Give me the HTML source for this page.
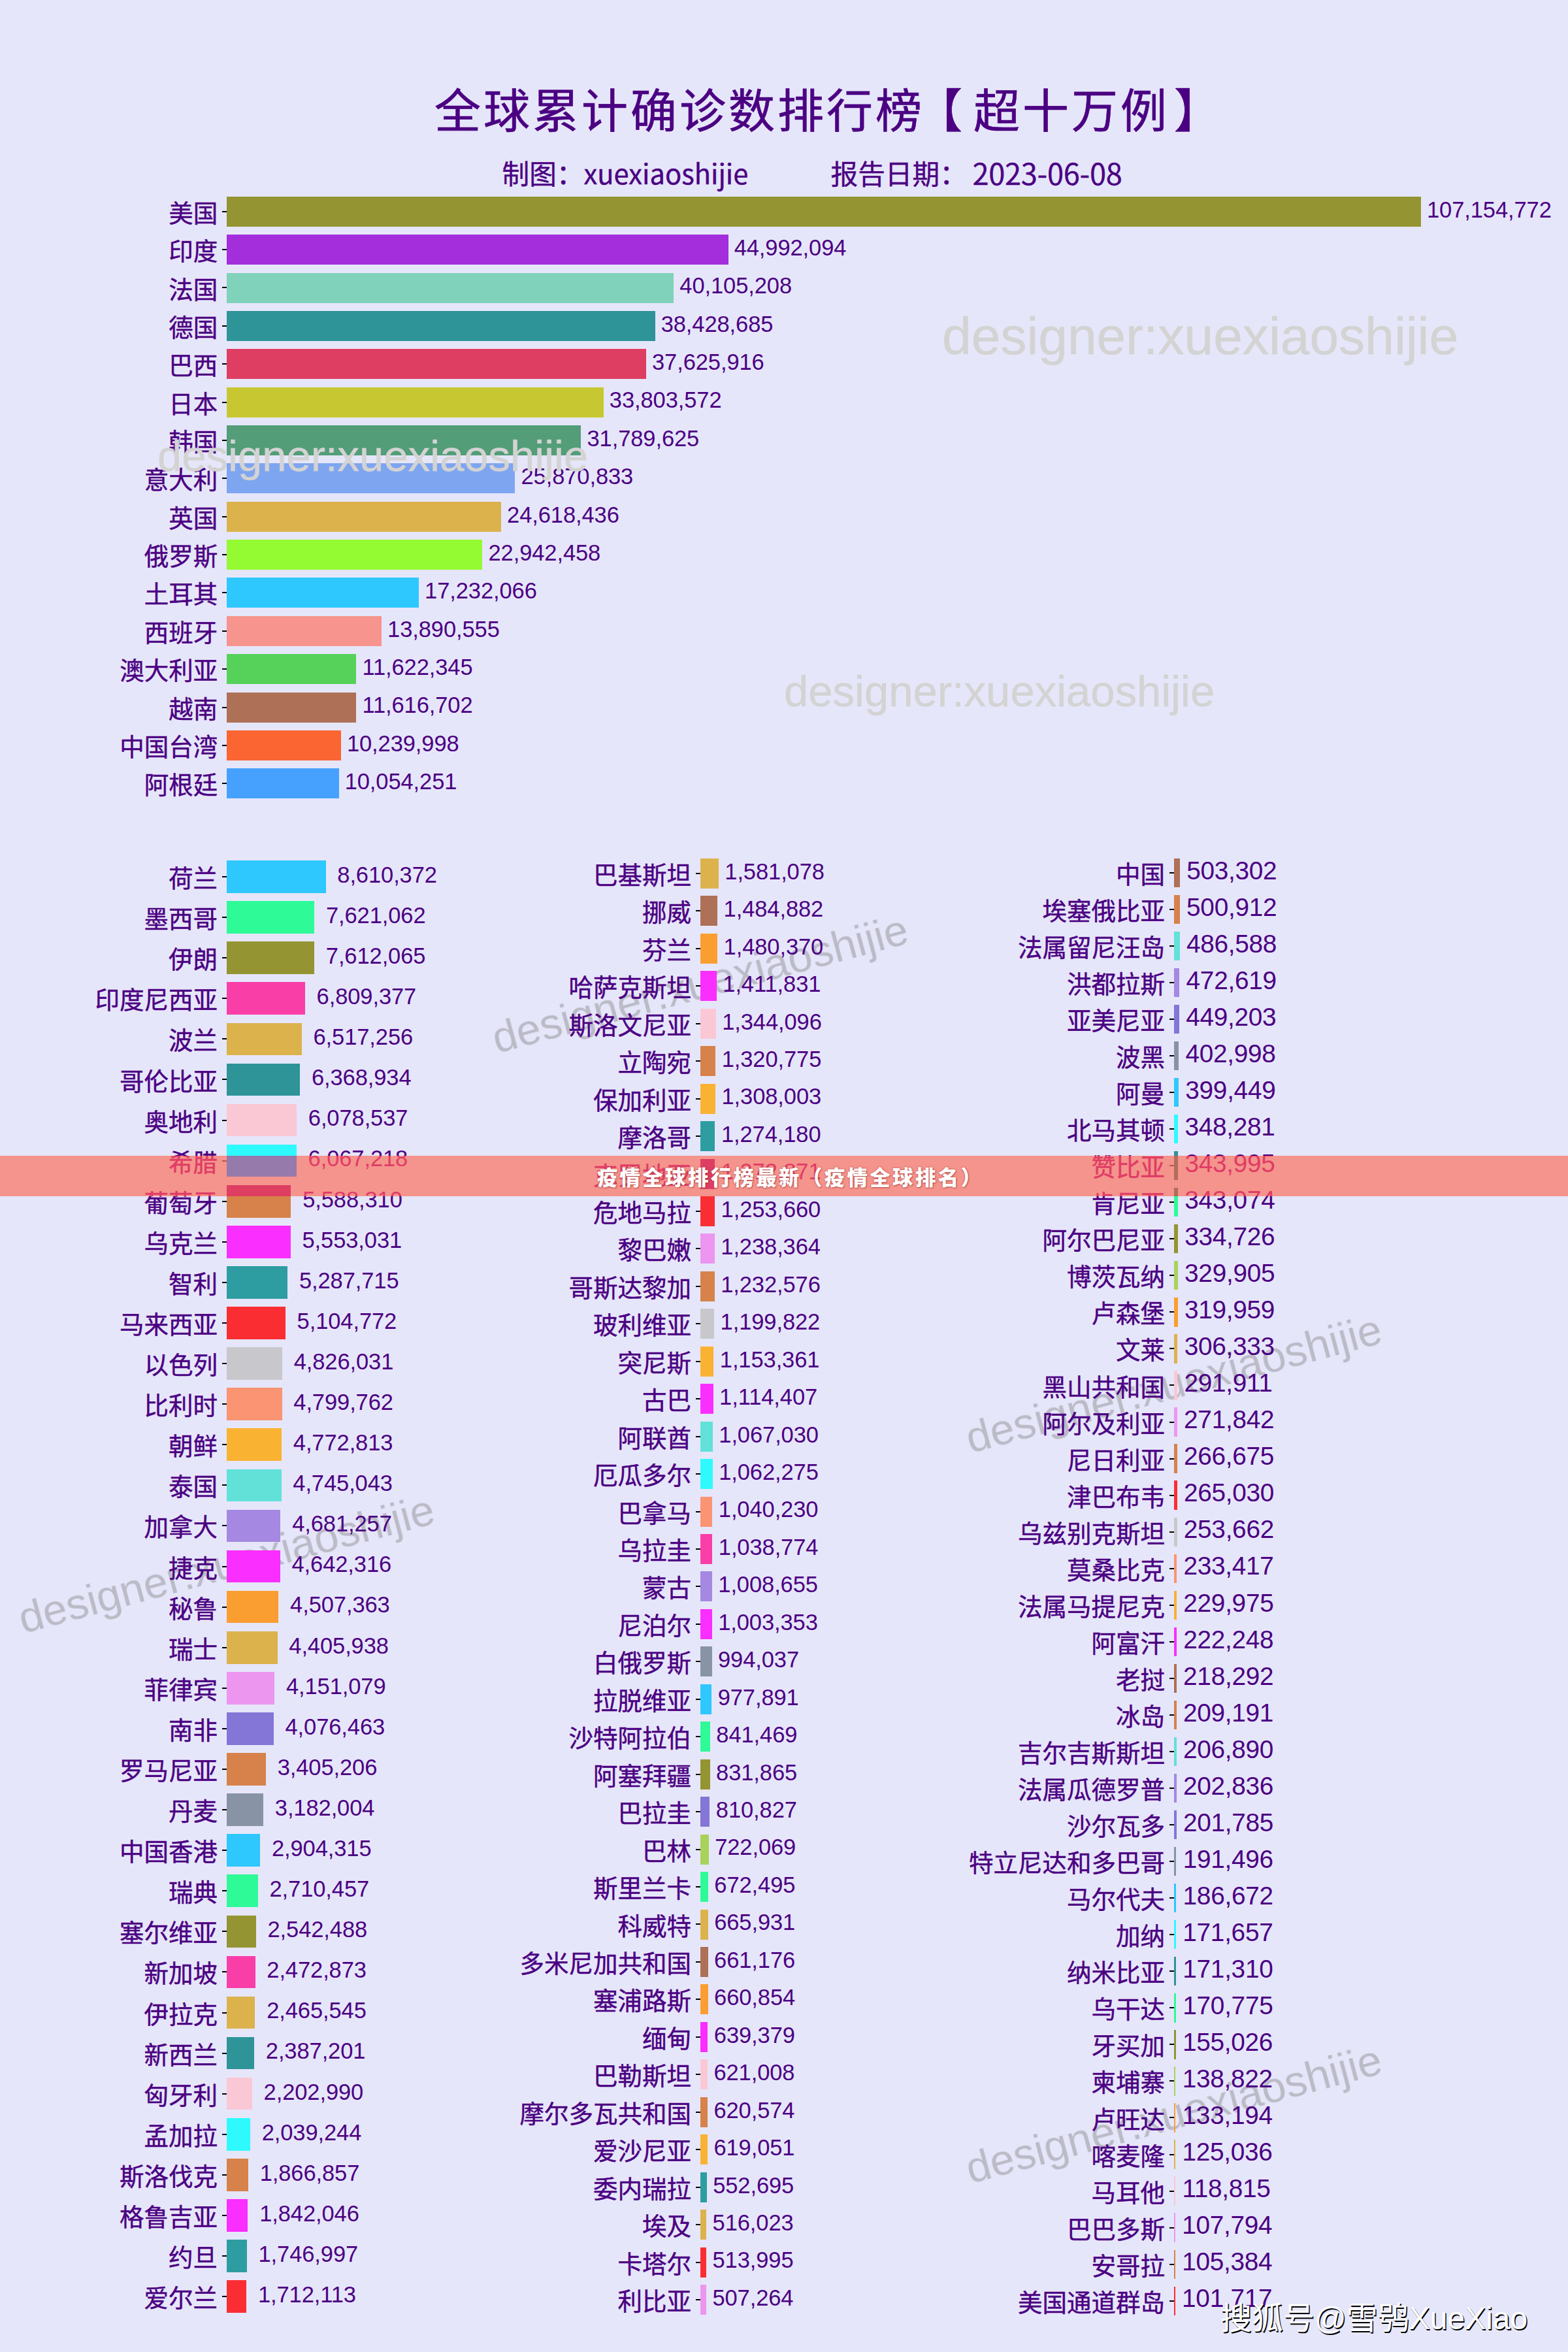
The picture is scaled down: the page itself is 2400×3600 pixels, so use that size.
<!DOCTYPE html>
<html lang="zh"><head><meta charset="utf-8"><title>全球累计确诊数排行榜</title><style>
html,body{margin:0;padding:0}
body{width:2400px;height:3600px;background:#e6e6fa;position:relative;overflow:hidden;font-family:"Noto Sans CJK SC","Liberation Sans",sans-serif;color:#4b0082}
#pg{position:absolute;left:0;top:0;width:2400px;height:3600px;overflow:hidden}
.b{position:absolute}
.t{position:absolute;width:7.0px;height:2.1px}
.l{position:absolute;font-size:37.5px;line-height:60px;height:60px;white-space:nowrap;-webkit-text-stroke:0.45px}
.v{position:absolute;line-height:60px;height:60px;white-space:nowrap;font-family:"Liberation Sans",sans-serif}
.x{position:absolute;white-space:nowrap}
.wr{position:absolute;white-space:nowrap;font-family:"Liberation Sans",sans-serif;font-size:66.67px;line-height:80px;color:rgba(128,128,128,0.42);filter:blur(0.6px);transform-origin:0 100%;transform:rotate(-15deg)}
.wh{position:absolute;white-space:nowrap;line-height:100px;color:#d3d3d3;font-family:"Liberation Sans",sans-serif;-webkit-text-stroke:0.5px}
</style></head><body><div id="pg">
<div class="wr" style="left:765px;top:1548.5px">designer:xuexiaoshijie</div><div class="wr" style="left:40px;top:2436.5px">designer:xuexiaoshijie</div><div class="wr" style="left:1490px;top:2160.5px">designer:xuexiaoshijie</div><div class="wr" style="left:1490px;top:3278.5px">designer:xuexiaoshijie</div><div class="b" style="left:347.2px;top:300.8px;width:1827.8px;height:46.0px;background:#949432"></div>
<div class="t" style="left:340.2px;top:322.7px;background:#000"></div>
<div class="l" style="right:2066.8px;top:293.8px;color:#4b0082">美国</div>
<div class="v" style="left:2184.0px;top:290.6px;font-size:34.5px;letter-spacing:-0.1px;color:#4b0082">107,154,772</div>
<div class="b" style="left:347.2px;top:359.1px;width:767.5px;height:46.0px;background:#a42edb"></div>
<div class="t" style="left:340.2px;top:381.1px;background:#000"></div>
<div class="l" style="right:2066.8px;top:352.1px;color:#4b0082">印度</div>
<div class="v" style="left:1123.7px;top:348.9px;font-size:34.5px;letter-spacing:-0.1px;color:#4b0082">44,992,094</div>
<div class="b" style="left:347.2px;top:417.5px;width:684.1px;height:46.0px;background:#80d2ba"></div>
<div class="t" style="left:340.2px;top:439.4px;background:#000"></div>
<div class="l" style="right:2066.8px;top:410.5px;color:#4b0082">法国</div>
<div class="v" style="left:1040.3px;top:407.3px;font-size:34.5px;letter-spacing:-0.1px;color:#4b0082">40,105,208</div>
<div class="b" style="left:347.2px;top:475.9px;width:655.5px;height:46.0px;background:#2e9498"></div>
<div class="t" style="left:340.2px;top:497.8px;background:#000"></div>
<div class="l" style="right:2066.8px;top:468.9px;color:#4b0082">德国</div>
<div class="v" style="left:1011.7px;top:465.7px;font-size:34.5px;letter-spacing:-0.1px;color:#4b0082">38,428,685</div>
<div class="b" style="left:347.2px;top:534.2px;width:641.8px;height:46.0px;background:#de3e62"></div>
<div class="t" style="left:340.2px;top:556.2px;background:#000"></div>
<div class="l" style="right:2066.8px;top:527.2px;color:#4b0082">巴西</div>
<div class="v" style="left:998.0px;top:524.0px;font-size:34.5px;letter-spacing:-0.1px;color:#4b0082">37,625,916</div>
<div class="b" style="left:347.2px;top:592.6px;width:576.6px;height:46.0px;background:#c7c732"></div>
<div class="t" style="left:340.2px;top:614.5px;background:#000"></div>
<div class="l" style="right:2066.8px;top:585.6px;color:#4b0082">日本</div>
<div class="v" style="left:932.8px;top:582.4px;font-size:34.5px;letter-spacing:-0.1px;color:#4b0082">33,803,572</div>
<div class="b" style="left:347.2px;top:651.0px;width:542.3px;height:46.0px;background:#539d78"></div>
<div class="t" style="left:340.2px;top:672.9px;background:#000"></div>
<div class="l" style="right:2066.8px;top:644.0px;color:#4b0082">韩国</div>
<div class="v" style="left:898.5px;top:640.8px;font-size:34.5px;letter-spacing:-0.1px;color:#4b0082">31,789,625</div>
<div class="b" style="left:347.2px;top:709.3px;width:441.3px;height:46.0px;background:#7ea5f0"></div>
<div class="t" style="left:340.2px;top:731.3px;background:#000"></div>
<div class="l" style="right:2066.8px;top:702.3px;color:#4b0082">意大利</div>
<div class="v" style="left:797.5px;top:699.1px;font-size:34.5px;letter-spacing:-0.1px;color:#4b0082">25,870,833</div>
<div class="b" style="left:347.2px;top:767.7px;width:419.9px;height:46.0px;background:#dcb24c"></div>
<div class="t" style="left:340.2px;top:789.7px;background:#000"></div>
<div class="l" style="right:2066.8px;top:760.7px;color:#4b0082">英国</div>
<div class="v" style="left:776.1px;top:757.5px;font-size:34.5px;letter-spacing:-0.1px;color:#4b0082">24,618,436</div>
<div class="b" style="left:347.2px;top:826.1px;width:391.3px;height:46.0px;background:#94fa32"></div>
<div class="t" style="left:340.2px;top:848.0px;background:#000"></div>
<div class="l" style="right:2066.8px;top:819.1px;color:#4b0082">俄罗斯</div>
<div class="v" style="left:747.5px;top:815.9px;font-size:34.5px;letter-spacing:-0.1px;color:#4b0082">22,942,458</div>
<div class="b" style="left:347.2px;top:884.4px;width:293.9px;height:46.0px;background:#2ec7fe"></div>
<div class="t" style="left:340.2px;top:906.4px;background:#000"></div>
<div class="l" style="right:2066.8px;top:877.4px;color:#4b0082">土耳其</div>
<div class="v" style="left:650.1px;top:874.2px;font-size:34.5px;letter-spacing:-0.1px;color:#4b0082">17,232,066</div>
<div class="b" style="left:347.2px;top:942.8px;width:236.9px;height:46.0px;background:#f6948d"></div>
<div class="t" style="left:340.2px;top:964.8px;background:#000"></div>
<div class="l" style="right:2066.8px;top:935.8px;color:#4b0082">西班牙</div>
<div class="v" style="left:593.1px;top:932.6px;font-size:34.5px;letter-spacing:-0.1px;color:#4b0082">13,890,555</div>
<div class="b" style="left:347.2px;top:1001.2px;width:198.2px;height:46.0px;background:#56d25a"></div>
<div class="t" style="left:340.2px;top:1023.1px;background:#000"></div>
<div class="l" style="right:2066.8px;top:994.2px;color:#4b0082">澳大利亚</div>
<div class="v" style="left:554.4px;top:991.0px;font-size:34.5px;letter-spacing:-0.1px;color:#4b0082">11,622,345</div>
<div class="b" style="left:347.2px;top:1059.6px;width:198.2px;height:46.0px;background:#ae7056"></div>
<div class="t" style="left:340.2px;top:1081.5px;background:#000"></div>
<div class="l" style="right:2066.8px;top:1052.6px;color:#4b0082">越南</div>
<div class="v" style="left:554.4px;top:1049.4px;font-size:34.5px;letter-spacing:-0.1px;color:#4b0082">11,616,702</div>
<div class="b" style="left:347.2px;top:1117.9px;width:174.7px;height:46.0px;background:#fa6532"></div>
<div class="t" style="left:340.2px;top:1139.9px;background:#000"></div>
<div class="l" style="right:2066.8px;top:1110.9px;color:#4b0082">中国台湾</div>
<div class="v" style="left:530.9px;top:1107.7px;font-size:34.5px;letter-spacing:-0.1px;color:#4b0082">10,239,998</div>
<div class="b" style="left:347.2px;top:1176.3px;width:171.5px;height:46.0px;background:#46a1fe"></div>
<div class="t" style="left:340.2px;top:1198.2px;background:#000"></div>
<div class="l" style="right:2066.8px;top:1169.3px;color:#4b0082">阿根廷</div>
<div class="v" style="left:527.7px;top:1166.1px;font-size:34.5px;letter-spacing:-0.1px;color:#4b0082">10,054,251</div><div class="b" style="left:347.1px;top:1317.2px;width:151.5px;height:49.7px;background:#2ec7fe"></div>
<div class="t" style="left:340.1px;top:1341.0px;background:#000"></div>
<div class="l" style="right:2066.9px;top:1312.0px;color:#4b0082">荷兰</div>
<div class="v" style="left:516.3px;top:1308.8px;font-size:34.5px;letter-spacing:-0.1px;color:#4b0082">8,610,372</div>
<div class="b" style="left:347.1px;top:1379.2px;width:134.1px;height:49.7px;background:#2efa98"></div>
<div class="t" style="left:340.1px;top:1403.0px;background:#000"></div>
<div class="l" style="right:2066.9px;top:1374.1px;color:#4b0082">墨西哥</div>
<div class="v" style="left:498.9px;top:1370.9px;font-size:34.5px;letter-spacing:-0.1px;color:#4b0082">7,621,062</div>
<div class="b" style="left:347.1px;top:1441.3px;width:134.0px;height:49.7px;background:#949432"></div>
<div class="t" style="left:340.1px;top:1465.1px;background:#000"></div>
<div class="l" style="right:2066.9px;top:1436.2px;color:#4b0082">伊朗</div>
<div class="v" style="left:498.8px;top:1433.0px;font-size:34.5px;letter-spacing:-0.1px;color:#4b0082">7,612,065</div>
<div class="b" style="left:347.1px;top:1503.4px;width:119.8px;height:49.7px;background:#fa3ea8"></div>
<div class="t" style="left:340.1px;top:1527.2px;background:#000"></div>
<div class="l" style="right:2066.9px;top:1498.3px;color:#4b0082">印度尼西亚</div>
<div class="v" style="left:484.6px;top:1495.1px;font-size:34.5px;letter-spacing:-0.1px;color:#4b0082">6,809,377</div>
<div class="b" style="left:347.1px;top:1565.5px;width:114.7px;height:49.7px;background:#dcb24c"></div>
<div class="t" style="left:340.1px;top:1589.3px;background:#000"></div>
<div class="l" style="right:2066.9px;top:1560.4px;color:#4b0082">波兰</div>
<div class="v" style="left:479.5px;top:1557.2px;font-size:34.5px;letter-spacing:-0.1px;color:#4b0082">6,517,256</div>
<div class="b" style="left:347.1px;top:1627.6px;width:112.1px;height:49.7px;background:#2e9498"></div>
<div class="t" style="left:340.1px;top:1651.4px;background:#000"></div>
<div class="l" style="right:2066.9px;top:1622.5px;color:#4b0082">哥伦比亚</div>
<div class="v" style="left:476.9px;top:1619.2px;font-size:34.5px;letter-spacing:-0.1px;color:#4b0082">6,368,934</div>
<div class="b" style="left:347.1px;top:1689.7px;width:107.0px;height:49.7px;background:#fac8d4"></div>
<div class="t" style="left:340.1px;top:1713.5px;background:#000"></div>
<div class="l" style="right:2066.9px;top:1684.5px;color:#4b0082">奥地利</div>
<div class="v" style="left:471.8px;top:1681.3px;font-size:34.5px;letter-spacing:-0.1px;color:#4b0082">6,078,537</div>
<div class="b" style="left:347.1px;top:1751.8px;width:106.8px;height:49.7px;background:#2efafe"></div>
<div class="t" style="left:340.1px;top:1775.6px;background:#000"></div>
<div class="l" style="right:2066.9px;top:1746.6px;color:#4b0082">希腊</div>
<div class="v" style="left:471.6px;top:1743.4px;font-size:34.5px;letter-spacing:-0.1px;color:#4b0082">6,067,218</div>
<div class="b" style="left:347.1px;top:1813.9px;width:98.4px;height:49.7px;background:#d6824a"></div>
<div class="t" style="left:340.1px;top:1837.7px;background:#000"></div>
<div class="l" style="right:2066.9px;top:1808.7px;color:#4b0082">葡萄牙</div>
<div class="v" style="left:463.2px;top:1805.5px;font-size:34.5px;letter-spacing:-0.1px;color:#4b0082">5,588,310</div>
<div class="b" style="left:347.1px;top:1876.0px;width:97.7px;height:49.7px;background:#fa2efe"></div>
<div class="t" style="left:340.1px;top:1899.8px;background:#000"></div>
<div class="l" style="right:2066.9px;top:1870.8px;color:#4b0082">乌克兰</div>
<div class="v" style="left:462.5px;top:1867.6px;font-size:34.5px;letter-spacing:-0.1px;color:#4b0082">5,553,031</div>
<div class="b" style="left:347.1px;top:1938.1px;width:93.1px;height:49.7px;background:#2e9da1"></div>
<div class="t" style="left:340.1px;top:1961.9px;background:#000"></div>
<div class="l" style="right:2066.9px;top:1932.9px;color:#4b0082">智利</div>
<div class="v" style="left:457.9px;top:1929.7px;font-size:34.5px;letter-spacing:-0.1px;color:#4b0082">5,287,715</div>
<div class="b" style="left:347.1px;top:2000.1px;width:89.8px;height:49.7px;background:#fa2e32"></div>
<div class="t" style="left:340.1px;top:2023.9px;background:#000"></div>
<div class="l" style="right:2066.9px;top:1995.0px;color:#4b0082">马来西亚</div>
<div class="v" style="left:454.6px;top:1991.8px;font-size:34.5px;letter-spacing:-0.1px;color:#4b0082">5,104,772</div>
<div class="b" style="left:347.1px;top:2062.2px;width:84.9px;height:49.7px;background:#c8c8cc"></div>
<div class="t" style="left:340.1px;top:2086.0px;background:#000"></div>
<div class="l" style="right:2066.9px;top:2057.1px;color:#4b0082">以色列</div>
<div class="v" style="left:449.7px;top:2053.9px;font-size:34.5px;letter-spacing:-0.1px;color:#4b0082">4,826,031</div>
<div class="b" style="left:347.1px;top:2124.3px;width:84.5px;height:49.7px;background:#fa9472"></div>
<div class="t" style="left:340.1px;top:2148.1px;background:#000"></div>
<div class="l" style="right:2066.9px;top:2119.2px;color:#4b0082">比利时</div>
<div class="v" style="left:449.3px;top:2116.0px;font-size:34.5px;letter-spacing:-0.1px;color:#4b0082">4,799,762</div>
<div class="b" style="left:347.1px;top:2186.4px;width:84.0px;height:49.7px;background:#fab232"></div>
<div class="t" style="left:340.1px;top:2210.2px;background:#000"></div>
<div class="l" style="right:2066.9px;top:2181.3px;color:#4b0082">朝鲜</div>
<div class="v" style="left:448.8px;top:2178.1px;font-size:34.5px;letter-spacing:-0.1px;color:#4b0082">4,772,813</div>
<div class="b" style="left:347.1px;top:2248.5px;width:83.5px;height:49.7px;background:#61e1d8"></div>
<div class="t" style="left:340.1px;top:2272.3px;background:#000"></div>
<div class="l" style="right:2066.9px;top:2243.3px;color:#4b0082">泰国</div>
<div class="v" style="left:448.3px;top:2240.2px;font-size:34.5px;letter-spacing:-0.1px;color:#4b0082">4,745,043</div>
<div class="b" style="left:347.1px;top:2310.6px;width:82.4px;height:49.7px;background:#a488e1"></div>
<div class="t" style="left:340.1px;top:2334.4px;background:#000"></div>
<div class="l" style="right:2066.9px;top:2305.4px;color:#4b0082">加拿大</div>
<div class="v" style="left:447.2px;top:2302.2px;font-size:34.5px;letter-spacing:-0.1px;color:#4b0082">4,681,257</div>
<div class="b" style="left:347.1px;top:2372.7px;width:81.7px;height:49.7px;background:#fa2efe"></div>
<div class="t" style="left:340.1px;top:2396.5px;background:#000"></div>
<div class="l" style="right:2066.9px;top:2367.5px;color:#4b0082">捷克</div>
<div class="v" style="left:446.5px;top:2364.3px;font-size:34.5px;letter-spacing:-0.1px;color:#4b0082">4,642,316</div>
<div class="b" style="left:347.1px;top:2434.8px;width:79.3px;height:49.7px;background:#fa9e32"></div>
<div class="t" style="left:340.1px;top:2458.6px;background:#000"></div>
<div class="l" style="right:2066.9px;top:2429.6px;color:#4b0082">秘鲁</div>
<div class="v" style="left:444.1px;top:2426.4px;font-size:34.5px;letter-spacing:-0.1px;color:#4b0082">4,507,363</div>
<div class="b" style="left:347.1px;top:2496.9px;width:77.5px;height:49.7px;background:#dcb24c"></div>
<div class="t" style="left:340.1px;top:2520.7px;background:#000"></div>
<div class="l" style="right:2066.9px;top:2491.7px;color:#4b0082">瑞士</div>
<div class="v" style="left:442.3px;top:2488.5px;font-size:34.5px;letter-spacing:-0.1px;color:#4b0082">4,405,938</div>
<div class="b" style="left:347.1px;top:2559.0px;width:73.1px;height:49.7px;background:#ec96f0"></div>
<div class="t" style="left:340.1px;top:2582.8px;background:#000"></div>
<div class="l" style="right:2066.9px;top:2553.8px;color:#4b0082">菲律宾</div>
<div class="v" style="left:437.9px;top:2550.6px;font-size:34.5px;letter-spacing:-0.1px;color:#4b0082">4,151,079</div>
<div class="b" style="left:347.1px;top:2621.0px;width:71.7px;height:49.7px;background:#8376d6"></div>
<div class="t" style="left:340.1px;top:2644.8px;background:#000"></div>
<div class="l" style="right:2066.9px;top:2615.9px;color:#4b0082">南非</div>
<div class="v" style="left:436.5px;top:2612.7px;font-size:34.5px;letter-spacing:-0.1px;color:#4b0082">4,076,463</div>
<div class="b" style="left:347.1px;top:2683.1px;width:59.9px;height:49.7px;background:#d6824a"></div>
<div class="t" style="left:340.1px;top:2706.9px;background:#000"></div>
<div class="l" style="right:2066.9px;top:2678.0px;color:#4b0082">罗马尼亚</div>
<div class="v" style="left:424.7px;top:2674.8px;font-size:34.5px;letter-spacing:-0.1px;color:#4b0082">3,405,206</div>
<div class="b" style="left:347.1px;top:2745.2px;width:56.0px;height:49.7px;background:#8894a5"></div>
<div class="t" style="left:340.1px;top:2769.0px;background:#000"></div>
<div class="l" style="right:2066.9px;top:2740.1px;color:#4b0082">丹麦</div>
<div class="v" style="left:420.8px;top:2736.9px;font-size:34.5px;letter-spacing:-0.1px;color:#4b0082">3,182,004</div>
<div class="b" style="left:347.1px;top:2807.3px;width:51.1px;height:49.7px;background:#2ec7fe"></div>
<div class="t" style="left:340.1px;top:2831.1px;background:#000"></div>
<div class="l" style="right:2066.9px;top:2802.2px;color:#4b0082">中国香港</div>
<div class="v" style="left:415.9px;top:2799.0px;font-size:34.5px;letter-spacing:-0.1px;color:#4b0082">2,904,315</div>
<div class="b" style="left:347.1px;top:2869.4px;width:47.7px;height:49.7px;background:#2efa98"></div>
<div class="t" style="left:340.1px;top:2893.2px;background:#000"></div>
<div class="l" style="right:2066.9px;top:2864.2px;color:#4b0082">瑞典</div>
<div class="v" style="left:412.5px;top:2861.1px;font-size:34.5px;letter-spacing:-0.1px;color:#4b0082">2,710,457</div>
<div class="b" style="left:347.1px;top:2931.5px;width:44.7px;height:49.7px;background:#949432"></div>
<div class="t" style="left:340.1px;top:2955.3px;background:#000"></div>
<div class="l" style="right:2066.9px;top:2926.3px;color:#4b0082">塞尔维亚</div>
<div class="v" style="left:409.5px;top:2923.1px;font-size:34.5px;letter-spacing:-0.1px;color:#4b0082">2,542,488</div>
<div class="b" style="left:347.1px;top:2993.6px;width:43.5px;height:49.7px;background:#fa3ea8"></div>
<div class="t" style="left:340.1px;top:3017.4px;background:#000"></div>
<div class="l" style="right:2066.9px;top:2988.4px;color:#4b0082">新加坡</div>
<div class="v" style="left:408.3px;top:2985.2px;font-size:34.5px;letter-spacing:-0.1px;color:#4b0082">2,472,873</div>
<div class="b" style="left:347.1px;top:3055.7px;width:43.4px;height:49.7px;background:#dcb24c"></div>
<div class="t" style="left:340.1px;top:3079.5px;background:#000"></div>
<div class="l" style="right:2066.9px;top:3050.5px;color:#4b0082">伊拉克</div>
<div class="v" style="left:408.2px;top:3047.3px;font-size:34.5px;letter-spacing:-0.1px;color:#4b0082">2,465,545</div>
<div class="b" style="left:347.1px;top:3117.8px;width:42.0px;height:49.7px;background:#2e9498"></div>
<div class="t" style="left:340.1px;top:3141.6px;background:#000"></div>
<div class="l" style="right:2066.9px;top:3112.6px;color:#4b0082">新西兰</div>
<div class="v" style="left:406.8px;top:3109.4px;font-size:34.5px;letter-spacing:-0.1px;color:#4b0082">2,387,201</div>
<div class="b" style="left:347.1px;top:3179.8px;width:38.8px;height:49.7px;background:#fac8d4"></div>
<div class="t" style="left:340.1px;top:3203.6px;background:#000"></div>
<div class="l" style="right:2066.9px;top:3174.7px;color:#4b0082">匈牙利</div>
<div class="v" style="left:403.6px;top:3171.5px;font-size:34.5px;letter-spacing:-0.1px;color:#4b0082">2,202,990</div>
<div class="b" style="left:347.1px;top:3241.9px;width:35.9px;height:49.7px;background:#2efafe"></div>
<div class="t" style="left:340.1px;top:3265.7px;background:#000"></div>
<div class="l" style="right:2066.9px;top:3236.8px;color:#4b0082">孟加拉</div>
<div class="v" style="left:400.7px;top:3233.6px;font-size:34.5px;letter-spacing:-0.1px;color:#4b0082">2,039,244</div>
<div class="b" style="left:347.1px;top:3304.0px;width:32.9px;height:49.7px;background:#d6824a"></div>
<div class="t" style="left:340.1px;top:3327.8px;background:#000"></div>
<div class="l" style="right:2066.9px;top:3298.9px;color:#4b0082">斯洛伐克</div>
<div class="v" style="left:397.7px;top:3295.7px;font-size:34.5px;letter-spacing:-0.1px;color:#4b0082">1,866,857</div>
<div class="b" style="left:347.1px;top:3366.1px;width:32.4px;height:49.7px;background:#fa2efe"></div>
<div class="t" style="left:340.1px;top:3389.9px;background:#000"></div>
<div class="l" style="right:2066.9px;top:3361.0px;color:#4b0082">格鲁吉亚</div>
<div class="v" style="left:397.2px;top:3357.8px;font-size:34.5px;letter-spacing:-0.1px;color:#4b0082">1,842,046</div>
<div class="b" style="left:347.1px;top:3428.2px;width:30.7px;height:49.7px;background:#2e9da1"></div>
<div class="t" style="left:340.1px;top:3452.0px;background:#000"></div>
<div class="l" style="right:2066.9px;top:3423.1px;color:#4b0082">约旦</div>
<div class="v" style="left:395.5px;top:3419.9px;font-size:34.5px;letter-spacing:-0.1px;color:#4b0082">1,746,997</div>
<div class="b" style="left:347.1px;top:3490.3px;width:30.1px;height:49.7px;background:#fa2e32"></div>
<div class="t" style="left:340.1px;top:3514.1px;background:#000"></div>
<div class="l" style="right:2066.9px;top:3485.2px;color:#4b0082">爱尔兰</div>
<div class="v" style="left:394.9px;top:3482.0px;font-size:34.5px;letter-spacing:-0.1px;color:#4b0082">1,712,113</div><div class="b" style="left:1072.0px;top:1313.9px;width:27.8px;height:46.0px;background:#dcb24c"></div>
<div class="t" style="left:1065.0px;top:1335.9px;background:#000"></div>
<div class="l" style="right:1342.0px;top:1306.9px;color:#4b0082">巴基斯坦</div>
<div class="v" style="left:1109.3px;top:1303.7px;font-size:34.5px;letter-spacing:-0.1px;color:#4b0082">1,581,078</div>
<div class="b" style="left:1072.0px;top:1371.4px;width:26.1px;height:46.0px;background:#ae7056"></div>
<div class="t" style="left:1065.0px;top:1393.3px;background:#000"></div>
<div class="l" style="right:1342.0px;top:1364.4px;color:#4b0082">挪威</div>
<div class="v" style="left:1107.6px;top:1361.2px;font-size:34.5px;letter-spacing:-0.1px;color:#4b0082">1,484,882</div>
<div class="b" style="left:1072.0px;top:1428.8px;width:26.1px;height:46.0px;background:#fa9e32"></div>
<div class="t" style="left:1065.0px;top:1450.8px;background:#000"></div>
<div class="l" style="right:1342.0px;top:1421.8px;color:#4b0082">芬兰</div>
<div class="v" style="left:1107.6px;top:1418.6px;font-size:34.5px;letter-spacing:-0.1px;color:#4b0082">1,480,370</div>
<div class="b" style="left:1072.0px;top:1486.2px;width:24.8px;height:46.0px;background:#fa2efe"></div>
<div class="t" style="left:1065.0px;top:1508.2px;background:#000"></div>
<div class="l" style="right:1342.0px;top:1479.2px;color:#4b0082">哈萨克斯坦</div>
<div class="v" style="left:1106.3px;top:1476.0px;font-size:34.5px;letter-spacing:-0.1px;color:#4b0082">1,411,831</div>
<div class="b" style="left:1072.0px;top:1543.7px;width:23.7px;height:46.0px;background:#fac8d4"></div>
<div class="t" style="left:1065.0px;top:1565.7px;background:#000"></div>
<div class="l" style="right:1342.0px;top:1536.7px;color:#4b0082">斯洛文尼亚</div>
<div class="v" style="left:1105.2px;top:1533.5px;font-size:34.5px;letter-spacing:-0.1px;color:#4b0082">1,344,096</div>
<div class="b" style="left:1072.0px;top:1601.2px;width:23.2px;height:46.0px;background:#d6824a"></div>
<div class="t" style="left:1065.0px;top:1623.1px;background:#000"></div>
<div class="l" style="right:1342.0px;top:1594.2px;color:#4b0082">立陶宛</div>
<div class="v" style="left:1104.7px;top:1591.0px;font-size:34.5px;letter-spacing:-0.1px;color:#4b0082">1,320,775</div>
<div class="b" style="left:1072.0px;top:1658.6px;width:23.0px;height:46.0px;background:#fab232"></div>
<div class="t" style="left:1065.0px;top:1680.6px;background:#000"></div>
<div class="l" style="right:1342.0px;top:1651.6px;color:#4b0082">保加利亚</div>
<div class="v" style="left:1104.5px;top:1648.4px;font-size:34.5px;letter-spacing:-0.1px;color:#4b0082">1,308,003</div>
<div class="b" style="left:1072.0px;top:1716.1px;width:22.4px;height:46.0px;background:#2e9da1"></div>
<div class="t" style="left:1065.0px;top:1738.0px;background:#000"></div>
<div class="l" style="right:1342.0px;top:1709.1px;color:#4b0082">摩洛哥</div>
<div class="v" style="left:1103.9px;top:1705.9px;font-size:34.5px;letter-spacing:-0.1px;color:#4b0082">1,274,180</div>
<div class="b" style="left:1072.0px;top:1773.5px;width:22.4px;height:46.0px;background:#de3e62"></div>
<div class="t" style="left:1065.0px;top:1795.5px;background:#000"></div>
<div class="l" style="right:1342.0px;top:1766.5px;color:#4b0082">克罗地亚</div>
<div class="v" style="left:1103.9px;top:1763.3px;font-size:34.5px;letter-spacing:-0.1px;color:#4b0082">1,272,871</div>
<div class="b" style="left:1072.0px;top:1831.0px;width:22.1px;height:46.0px;background:#fa2e32"></div>
<div class="t" style="left:1065.0px;top:1852.9px;background:#000"></div>
<div class="l" style="right:1342.0px;top:1824.0px;color:#4b0082">危地马拉</div>
<div class="v" style="left:1103.6px;top:1820.8px;font-size:34.5px;letter-spacing:-0.1px;color:#4b0082">1,253,660</div>
<div class="b" style="left:1072.0px;top:1888.4px;width:21.8px;height:46.0px;background:#ec96f0"></div>
<div class="t" style="left:1065.0px;top:1910.4px;background:#000"></div>
<div class="l" style="right:1342.0px;top:1881.4px;color:#4b0082">黎巴嫩</div>
<div class="v" style="left:1103.3px;top:1878.2px;font-size:34.5px;letter-spacing:-0.1px;color:#4b0082">1,238,364</div>
<div class="b" style="left:1072.0px;top:1945.9px;width:21.7px;height:46.0px;background:#d6824a"></div>
<div class="t" style="left:1065.0px;top:1967.8px;background:#000"></div>
<div class="l" style="right:1342.0px;top:1938.9px;color:#4b0082">哥斯达黎加</div>
<div class="v" style="left:1103.2px;top:1935.7px;font-size:34.5px;letter-spacing:-0.1px;color:#4b0082">1,232,576</div>
<div class="b" style="left:1072.0px;top:2003.3px;width:21.1px;height:46.0px;background:#c8c8cc"></div>
<div class="t" style="left:1065.0px;top:2025.3px;background:#000"></div>
<div class="l" style="right:1342.0px;top:1996.3px;color:#4b0082">玻利维亚</div>
<div class="v" style="left:1102.6px;top:1993.1px;font-size:34.5px;letter-spacing:-0.1px;color:#4b0082">1,199,822</div>
<div class="b" style="left:1072.0px;top:2060.8px;width:20.3px;height:46.0px;background:#fab232"></div>
<div class="t" style="left:1065.0px;top:2082.7px;background:#000"></div>
<div class="l" style="right:1342.0px;top:2053.8px;color:#4b0082">突尼斯</div>
<div class="v" style="left:1101.8px;top:2050.6px;font-size:34.5px;letter-spacing:-0.1px;color:#4b0082">1,153,361</div>
<div class="b" style="left:1072.0px;top:2118.2px;width:19.6px;height:46.0px;background:#fa2efe"></div>
<div class="t" style="left:1065.0px;top:2140.2px;background:#000"></div>
<div class="l" style="right:1342.0px;top:2111.2px;color:#4b0082">古巴</div>
<div class="v" style="left:1101.1px;top:2108.0px;font-size:34.5px;letter-spacing:-0.1px;color:#4b0082">1,114,407</div>
<div class="b" style="left:1072.0px;top:2175.7px;width:18.8px;height:46.0px;background:#61e1d8"></div>
<div class="t" style="left:1065.0px;top:2197.6px;background:#000"></div>
<div class="l" style="right:1342.0px;top:2168.7px;color:#4b0082">阿联酋</div>
<div class="v" style="left:1100.3px;top:2165.5px;font-size:34.5px;letter-spacing:-0.1px;color:#4b0082">1,067,030</div>
<div class="b" style="left:1072.0px;top:2233.1px;width:18.7px;height:46.0px;background:#2efafe"></div>
<div class="t" style="left:1065.0px;top:2255.1px;background:#000"></div>
<div class="l" style="right:1342.0px;top:2226.1px;color:#4b0082">厄瓜多尔</div>
<div class="v" style="left:1100.2px;top:2222.9px;font-size:34.5px;letter-spacing:-0.1px;color:#4b0082">1,062,275</div>
<div class="b" style="left:1072.0px;top:2290.6px;width:18.3px;height:46.0px;background:#fa9472"></div>
<div class="t" style="left:1065.0px;top:2312.5px;background:#000"></div>
<div class="l" style="right:1342.0px;top:2283.6px;color:#4b0082">巴拿马</div>
<div class="v" style="left:1099.8px;top:2280.4px;font-size:34.5px;letter-spacing:-0.1px;color:#4b0082">1,040,230</div>
<div class="b" style="left:1072.0px;top:2348.0px;width:18.3px;height:46.0px;background:#fa3ea8"></div>
<div class="t" style="left:1065.0px;top:2369.9px;background:#000"></div>
<div class="l" style="right:1342.0px;top:2341.0px;color:#4b0082">乌拉圭</div>
<div class="v" style="left:1099.8px;top:2337.8px;font-size:34.5px;letter-spacing:-0.1px;color:#4b0082">1,038,774</div>
<div class="b" style="left:1072.0px;top:2405.4px;width:17.8px;height:46.0px;background:#a488e1"></div>
<div class="t" style="left:1065.0px;top:2427.4px;background:#000"></div>
<div class="l" style="right:1342.0px;top:2398.4px;color:#4b0082">蒙古</div>
<div class="v" style="left:1099.3px;top:2395.2px;font-size:34.5px;letter-spacing:-0.1px;color:#4b0082">1,008,655</div>
<div class="b" style="left:1072.0px;top:2462.9px;width:17.7px;height:46.0px;background:#fa2efe"></div>
<div class="t" style="left:1065.0px;top:2484.8px;background:#000"></div>
<div class="l" style="right:1342.0px;top:2455.9px;color:#4b0082">尼泊尔</div>
<div class="v" style="left:1099.2px;top:2452.7px;font-size:34.5px;letter-spacing:-0.1px;color:#4b0082">1,003,353</div>
<div class="b" style="left:1072.0px;top:2520.4px;width:17.5px;height:46.0px;background:#8894a5"></div>
<div class="t" style="left:1065.0px;top:2542.3px;background:#000"></div>
<div class="l" style="right:1342.0px;top:2513.4px;color:#4b0082">白俄罗斯</div>
<div class="v" style="left:1099.0px;top:2510.2px;font-size:34.5px;letter-spacing:-0.1px;color:#4b0082">994,037</div>
<div class="b" style="left:1072.0px;top:2577.8px;width:17.2px;height:46.0px;background:#2ec7fe"></div>
<div class="t" style="left:1065.0px;top:2599.8px;background:#000"></div>
<div class="l" style="right:1342.0px;top:2570.8px;color:#4b0082">拉脱维亚</div>
<div class="v" style="left:1098.7px;top:2567.6px;font-size:34.5px;letter-spacing:-0.1px;color:#4b0082">977,891</div>
<div class="b" style="left:1072.0px;top:2635.2px;width:14.8px;height:46.0px;background:#2efa98"></div>
<div class="t" style="left:1065.0px;top:2657.2px;background:#000"></div>
<div class="l" style="right:1342.0px;top:2628.2px;color:#4b0082">沙特阿拉伯</div>
<div class="v" style="left:1096.3px;top:2625.1px;font-size:34.5px;letter-spacing:-0.1px;color:#4b0082">841,469</div>
<div class="b" style="left:1072.0px;top:2692.7px;width:14.6px;height:46.0px;background:#949432"></div>
<div class="t" style="left:1065.0px;top:2714.7px;background:#000"></div>
<div class="l" style="right:1342.0px;top:2685.7px;color:#4b0082">阿塞拜疆</div>
<div class="v" style="left:1096.1px;top:2682.5px;font-size:34.5px;letter-spacing:-0.1px;color:#4b0082">831,865</div>
<div class="b" style="left:1072.0px;top:2750.2px;width:14.3px;height:46.0px;background:#8376d6"></div>
<div class="t" style="left:1065.0px;top:2772.1px;background:#000"></div>
<div class="l" style="right:1342.0px;top:2743.2px;color:#4b0082">巴拉圭</div>
<div class="v" style="left:1095.8px;top:2740.0px;font-size:34.5px;letter-spacing:-0.1px;color:#4b0082">810,827</div>
<div class="b" style="left:1072.0px;top:2807.6px;width:12.7px;height:46.0px;background:#a9d25a"></div>
<div class="t" style="left:1065.0px;top:2829.6px;background:#000"></div>
<div class="l" style="right:1342.0px;top:2800.6px;color:#4b0082">巴林</div>
<div class="v" style="left:1094.2px;top:2797.4px;font-size:34.5px;letter-spacing:-0.1px;color:#4b0082">722,069</div>
<div class="b" style="left:1072.0px;top:2865.1px;width:11.8px;height:46.0px;background:#2efa98"></div>
<div class="t" style="left:1065.0px;top:2887.0px;background:#000"></div>
<div class="l" style="right:1342.0px;top:2858.1px;color:#4b0082">斯里兰卡</div>
<div class="v" style="left:1093.3px;top:2854.9px;font-size:34.5px;letter-spacing:-0.1px;color:#4b0082">672,495</div>
<div class="b" style="left:1072.0px;top:2922.5px;width:11.7px;height:46.0px;background:#dcb24c"></div>
<div class="t" style="left:1065.0px;top:2944.4px;background:#000"></div>
<div class="l" style="right:1342.0px;top:2915.5px;color:#4b0082">科威特</div>
<div class="v" style="left:1093.2px;top:2912.3px;font-size:34.5px;letter-spacing:-0.1px;color:#4b0082">665,931</div>
<div class="b" style="left:1072.0px;top:2980.0px;width:11.6px;height:46.0px;background:#ae7056"></div>
<div class="t" style="left:1065.0px;top:3001.9px;background:#000"></div>
<div class="l" style="right:1342.0px;top:2973.0px;color:#4b0082">多米尼加共和国</div>
<div class="v" style="left:1093.1px;top:2969.8px;font-size:34.5px;letter-spacing:-0.1px;color:#4b0082">661,176</div>
<div class="b" style="left:1072.0px;top:3037.4px;width:11.6px;height:46.0px;background:#fa9e32"></div>
<div class="t" style="left:1065.0px;top:3059.3px;background:#000"></div>
<div class="l" style="right:1342.0px;top:3030.4px;color:#4b0082">塞浦路斯</div>
<div class="v" style="left:1093.1px;top:3027.2px;font-size:34.5px;letter-spacing:-0.1px;color:#4b0082">660,854</div>
<div class="b" style="left:1072.0px;top:3094.9px;width:11.3px;height:46.0px;background:#fa2efe"></div>
<div class="t" style="left:1065.0px;top:3116.8px;background:#000"></div>
<div class="l" style="right:1342.0px;top:3087.9px;color:#4b0082">缅甸</div>
<div class="v" style="left:1092.8px;top:3084.7px;font-size:34.5px;letter-spacing:-0.1px;color:#4b0082">639,379</div>
<div class="b" style="left:1072.0px;top:3152.3px;width:10.9px;height:46.0px;background:#fac8d4"></div>
<div class="t" style="left:1065.0px;top:3174.2px;background:#000"></div>
<div class="l" style="right:1342.0px;top:3145.3px;color:#4b0082">巴勒斯坦</div>
<div class="v" style="left:1092.4px;top:3142.1px;font-size:34.5px;letter-spacing:-0.1px;color:#4b0082">621,008</div>
<div class="b" style="left:1072.0px;top:3209.8px;width:10.9px;height:46.0px;background:#d6824a"></div>
<div class="t" style="left:1065.0px;top:3231.7px;background:#000"></div>
<div class="l" style="right:1342.0px;top:3202.8px;color:#4b0082">摩尔多瓦共和国</div>
<div class="v" style="left:1092.4px;top:3199.6px;font-size:34.5px;letter-spacing:-0.1px;color:#4b0082">620,574</div>
<div class="b" style="left:1072.0px;top:3267.2px;width:10.9px;height:46.0px;background:#fab232"></div>
<div class="t" style="left:1065.0px;top:3289.2px;background:#000"></div>
<div class="l" style="right:1342.0px;top:3260.2px;color:#4b0082">爱沙尼亚</div>
<div class="v" style="left:1092.4px;top:3257.0px;font-size:34.5px;letter-spacing:-0.1px;color:#4b0082">619,051</div>
<div class="b" style="left:1072.0px;top:3324.7px;width:9.7px;height:46.0px;background:#2e9da1"></div>
<div class="t" style="left:1065.0px;top:3346.6px;background:#000"></div>
<div class="l" style="right:1342.0px;top:3317.7px;color:#4b0082">委内瑞拉</div>
<div class="v" style="left:1091.2px;top:3314.5px;font-size:34.5px;letter-spacing:-0.1px;color:#4b0082">552,695</div>
<div class="b" style="left:1072.0px;top:3382.1px;width:9.1px;height:46.0px;background:#dcb24c"></div>
<div class="t" style="left:1065.0px;top:3404.1px;background:#000"></div>
<div class="l" style="right:1342.0px;top:3375.1px;color:#4b0082">埃及</div>
<div class="v" style="left:1090.6px;top:3371.9px;font-size:34.5px;letter-spacing:-0.1px;color:#4b0082">516,023</div>
<div class="b" style="left:1072.0px;top:3439.6px;width:9.0px;height:46.0px;background:#fa2e32"></div>
<div class="t" style="left:1065.0px;top:3461.5px;background:#000"></div>
<div class="l" style="right:1342.0px;top:3432.6px;color:#4b0082">卡塔尔</div>
<div class="v" style="left:1090.5px;top:3429.4px;font-size:34.5px;letter-spacing:-0.1px;color:#4b0082">513,995</div>
<div class="b" style="left:1072.0px;top:3497.0px;width:8.9px;height:46.0px;background:#ec96f0"></div>
<div class="t" style="left:1065.0px;top:3518.9px;background:#000"></div>
<div class="l" style="right:1342.0px;top:3490.0px;color:#4b0082">利比亚</div>
<div class="v" style="left:1090.4px;top:3486.8px;font-size:34.5px;letter-spacing:-0.1px;color:#4b0082">507,264</div><div class="b" style="left:1797.1px;top:1313.6px;width:8.9px;height:44.4px;background:#ae7056"></div>
<div class="t" style="left:1790.1px;top:1334.8px;background:#000"></div>
<div class="l" style="right:616.9px;top:1305.8px;color:#4b0082">中国</div>
<div class="v" style="left:1816.2px;top:1302.5px;font-size:38.8px;letter-spacing:-0.3px;color:#4b0082">503,302</div>
<div class="b" style="left:1797.1px;top:1369.6px;width:8.8px;height:44.4px;background:#d6824a"></div>
<div class="t" style="left:1790.1px;top:1390.8px;background:#000"></div>
<div class="l" style="right:616.9px;top:1361.8px;color:#4b0082">埃塞俄比亚</div>
<div class="v" style="left:1816.1px;top:1358.5px;font-size:38.8px;letter-spacing:-0.3px;color:#4b0082">500,912</div>
<div class="b" style="left:1797.1px;top:1425.7px;width:8.6px;height:44.4px;background:#61e1d8"></div>
<div class="t" style="left:1790.1px;top:1446.8px;background:#000"></div>
<div class="l" style="right:616.9px;top:1417.9px;color:#4b0082">法属留尼汪岛</div>
<div class="v" style="left:1815.9px;top:1414.6px;font-size:38.8px;letter-spacing:-0.3px;color:#4b0082">486,588</div>
<div class="b" style="left:1797.1px;top:1481.7px;width:8.3px;height:44.4px;background:#a488e1"></div>
<div class="t" style="left:1790.1px;top:1502.9px;background:#000"></div>
<div class="l" style="right:616.9px;top:1473.9px;color:#4b0082">洪都拉斯</div>
<div class="v" style="left:1815.6px;top:1470.6px;font-size:38.8px;letter-spacing:-0.3px;color:#4b0082">472,619</div>
<div class="b" style="left:1797.1px;top:1537.8px;width:7.9px;height:44.4px;background:#8376d6"></div>
<div class="t" style="left:1790.1px;top:1559.0px;background:#000"></div>
<div class="l" style="right:616.9px;top:1530.0px;color:#4b0082">亚美尼亚</div>
<div class="v" style="left:1815.2px;top:1526.7px;font-size:38.8px;letter-spacing:-0.3px;color:#4b0082">449,203</div>
<div class="b" style="left:1797.1px;top:1593.8px;width:7.1px;height:44.4px;background:#8894a5"></div>
<div class="t" style="left:1790.1px;top:1615.0px;background:#000"></div>
<div class="l" style="right:616.9px;top:1586.0px;color:#4b0082">波黑</div>
<div class="v" style="left:1814.4px;top:1582.8px;font-size:38.8px;letter-spacing:-0.3px;color:#4b0082">402,998</div>
<div class="b" style="left:1797.1px;top:1649.9px;width:7.0px;height:44.4px;background:#2ec7fe"></div>
<div class="t" style="left:1790.1px;top:1671.0px;background:#000"></div>
<div class="l" style="right:616.9px;top:1642.1px;color:#4b0082">阿曼</div>
<div class="v" style="left:1814.3px;top:1638.8px;font-size:38.8px;letter-spacing:-0.3px;color:#4b0082">399,449</div>
<div class="b" style="left:1797.1px;top:1705.9px;width:6.1px;height:44.4px;background:#2efafe"></div>
<div class="t" style="left:1790.1px;top:1727.1px;background:#000"></div>
<div class="l" style="right:616.9px;top:1698.1px;color:#4b0082">北马其顿</div>
<div class="v" style="left:1813.4px;top:1694.8px;font-size:38.8px;letter-spacing:-0.3px;color:#4b0082">348,281</div>
<div class="b" style="left:1797.1px;top:1762.0px;width:6.1px;height:44.4px;background:#2e9498"></div>
<div class="t" style="left:1790.1px;top:1783.1px;background:#000"></div>
<div class="l" style="right:616.9px;top:1754.2px;color:#4b0082">赞比亚</div>
<div class="v" style="left:1813.4px;top:1750.9px;font-size:38.8px;letter-spacing:-0.3px;color:#4b0082">343,995</div>
<div class="b" style="left:1797.1px;top:1818.0px;width:6.0px;height:44.4px;background:#2efa98"></div>
<div class="t" style="left:1790.1px;top:1839.2px;background:#000"></div>
<div class="l" style="right:616.9px;top:1810.2px;color:#4b0082">肯尼亚</div>
<div class="v" style="left:1813.3px;top:1807.0px;font-size:38.8px;letter-spacing:-0.3px;color:#4b0082">343,074</div>
<div class="b" style="left:1797.1px;top:1874.1px;width:5.9px;height:44.4px;background:#949432"></div>
<div class="t" style="left:1790.1px;top:1895.2px;background:#000"></div>
<div class="l" style="right:616.9px;top:1866.3px;color:#4b0082">阿尔巴尼亚</div>
<div class="v" style="left:1813.2px;top:1863.0px;font-size:38.8px;letter-spacing:-0.3px;color:#4b0082">334,726</div>
<div class="b" style="left:1797.1px;top:1930.1px;width:5.8px;height:44.4px;background:#a9d25a"></div>
<div class="t" style="left:1790.1px;top:1951.3px;background:#000"></div>
<div class="l" style="right:616.9px;top:1922.3px;color:#4b0082">博茨瓦纳</div>
<div class="v" style="left:1813.1px;top:1919.0px;font-size:38.8px;letter-spacing:-0.3px;color:#4b0082">329,905</div>
<div class="b" style="left:1797.1px;top:1986.2px;width:5.6px;height:44.4px;background:#fa9e32"></div>
<div class="t" style="left:1790.1px;top:2007.3px;background:#000"></div>
<div class="l" style="right:616.9px;top:1978.4px;color:#4b0082">卢森堡</div>
<div class="v" style="left:1812.9px;top:1975.1px;font-size:38.8px;letter-spacing:-0.3px;color:#4b0082">319,959</div>
<div class="b" style="left:1797.1px;top:2042.2px;width:5.4px;height:44.4px;background:#dcb24c"></div>
<div class="t" style="left:1790.1px;top:2063.4px;background:#000"></div>
<div class="l" style="right:616.9px;top:2034.4px;color:#4b0082">文莱</div>
<div class="v" style="left:1812.7px;top:2031.1px;font-size:38.8px;letter-spacing:-0.3px;color:#4b0082">306,333</div>
<div class="b" style="left:1797.1px;top:2098.3px;width:5.1px;height:44.4px;background:#fac8d4"></div>
<div class="t" style="left:1790.1px;top:2119.4px;background:#000"></div>
<div class="l" style="right:616.9px;top:2090.5px;color:#4b0082">黑山共和国</div>
<div class="v" style="left:1812.4px;top:2087.2px;font-size:38.8px;letter-spacing:-0.3px;color:#4b0082">291,911</div>
<div class="b" style="left:1797.1px;top:2154.4px;width:4.8px;height:44.4px;background:#ec96f0"></div>
<div class="t" style="left:1790.1px;top:2175.5px;background:#000"></div>
<div class="l" style="right:616.9px;top:2146.6px;color:#4b0082">阿尔及利亚</div>
<div class="v" style="left:1812.1px;top:2143.2px;font-size:38.8px;letter-spacing:-0.3px;color:#4b0082">271,842</div>
<div class="b" style="left:1797.1px;top:2210.4px;width:4.7px;height:44.4px;background:#d6824a"></div>
<div class="t" style="left:1790.1px;top:2231.5px;background:#000"></div>
<div class="l" style="right:616.9px;top:2202.6px;color:#4b0082">尼日利亚</div>
<div class="v" style="left:1812.0px;top:2199.3px;font-size:38.8px;letter-spacing:-0.3px;color:#4b0082">266,675</div>
<div class="b" style="left:1797.1px;top:2266.4px;width:4.7px;height:44.4px;background:#fa2e32"></div>
<div class="t" style="left:1790.1px;top:2287.6px;background:#000"></div>
<div class="l" style="right:616.9px;top:2258.6px;color:#4b0082">津巴布韦</div>
<div class="v" style="left:1812.0px;top:2255.3px;font-size:38.8px;letter-spacing:-0.3px;color:#4b0082">265,030</div>
<div class="b" style="left:1797.1px;top:2322.5px;width:4.5px;height:44.4px;background:#c8c8cc"></div>
<div class="t" style="left:1790.1px;top:2343.6px;background:#000"></div>
<div class="l" style="right:616.9px;top:2314.7px;color:#4b0082">乌兹别克斯坦</div>
<div class="v" style="left:1811.8px;top:2311.4px;font-size:38.8px;letter-spacing:-0.3px;color:#4b0082">253,662</div>
<div class="b" style="left:1797.1px;top:2378.6px;width:4.1px;height:44.4px;background:#fa9472"></div>
<div class="t" style="left:1790.1px;top:2399.7px;background:#000"></div>
<div class="l" style="right:616.9px;top:2370.8px;color:#4b0082">莫桑比克</div>
<div class="v" style="left:1811.4px;top:2367.4px;font-size:38.8px;letter-spacing:-0.3px;color:#4b0082">233,417</div>
<div class="b" style="left:1797.1px;top:2434.6px;width:4.0px;height:44.4px;background:#fab232"></div>
<div class="t" style="left:1790.1px;top:2455.8px;background:#000"></div>
<div class="l" style="right:616.9px;top:2426.8px;color:#4b0082">法属马提尼克</div>
<div class="v" style="left:1811.3px;top:2423.5px;font-size:38.8px;letter-spacing:-0.3px;color:#4b0082">229,975</div>
<div class="b" style="left:1797.1px;top:2490.7px;width:3.9px;height:44.4px;background:#fa2efe"></div>
<div class="t" style="left:1790.1px;top:2511.8px;background:#000"></div>
<div class="l" style="right:616.9px;top:2482.8px;color:#4b0082">阿富汗</div>
<div class="v" style="left:1811.2px;top:2479.5px;font-size:38.8px;letter-spacing:-0.3px;color:#4b0082">222,248</div>
<div class="b" style="left:1797.1px;top:2546.7px;width:3.8px;height:44.4px;background:#ae7056"></div>
<div class="t" style="left:1790.1px;top:2567.8px;background:#000"></div>
<div class="l" style="right:616.9px;top:2538.9px;color:#4b0082">老挝</div>
<div class="v" style="left:1811.1px;top:2535.6px;font-size:38.8px;letter-spacing:-0.3px;color:#4b0082">218,292</div>
<div class="b" style="left:1797.1px;top:2602.8px;width:3.7px;height:44.4px;background:#d6824a"></div>
<div class="t" style="left:1790.1px;top:2623.9px;background:#000"></div>
<div class="l" style="right:616.9px;top:2594.9px;color:#4b0082">冰岛</div>
<div class="v" style="left:1811.0px;top:2591.6px;font-size:38.8px;letter-spacing:-0.3px;color:#4b0082">209,191</div>
<div class="b" style="left:1797.1px;top:2658.8px;width:3.6px;height:44.4px;background:#61e1d8"></div>
<div class="t" style="left:1790.1px;top:2679.9px;background:#000"></div>
<div class="l" style="right:616.9px;top:2651.0px;color:#4b0082">吉尔吉斯斯坦</div>
<div class="v" style="left:1810.9px;top:2647.7px;font-size:38.8px;letter-spacing:-0.3px;color:#4b0082">206,890</div>
<div class="b" style="left:1797.1px;top:2714.9px;width:3.6px;height:44.4px;background:#a488e1"></div>
<div class="t" style="left:1790.1px;top:2736.0px;background:#000"></div>
<div class="l" style="right:616.9px;top:2707.1px;color:#4b0082">法属瓜德罗普</div>
<div class="v" style="left:1810.9px;top:2703.8px;font-size:38.8px;letter-spacing:-0.3px;color:#4b0082">202,836</div>
<div class="b" style="left:1797.1px;top:2770.9px;width:3.6px;height:44.4px;background:#8376d6"></div>
<div class="t" style="left:1790.1px;top:2792.0px;background:#000"></div>
<div class="l" style="right:616.9px;top:2763.1px;color:#4b0082">沙尔瓦多</div>
<div class="v" style="left:1810.9px;top:2759.8px;font-size:38.8px;letter-spacing:-0.3px;color:#4b0082">201,785</div>
<div class="b" style="left:1797.1px;top:2826.9px;width:3.4px;height:44.4px;background:#8894a5"></div>
<div class="t" style="left:1790.1px;top:2848.1px;background:#000"></div>
<div class="l" style="right:616.9px;top:2819.1px;color:#4b0082">特立尼达和多巴哥</div>
<div class="v" style="left:1810.7px;top:2815.8px;font-size:38.8px;letter-spacing:-0.3px;color:#4b0082">191,496</div>
<div class="b" style="left:1797.1px;top:2883.0px;width:3.3px;height:44.4px;background:#2ec7fe"></div>
<div class="t" style="left:1790.1px;top:2904.1px;background:#000"></div>
<div class="l" style="right:616.9px;top:2875.2px;color:#4b0082">马尔代夫</div>
<div class="v" style="left:1810.6px;top:2871.9px;font-size:38.8px;letter-spacing:-0.3px;color:#4b0082">186,672</div>
<div class="b" style="left:1797.1px;top:2939.1px;width:3.0px;height:44.4px;background:#2efafe"></div>
<div class="t" style="left:1790.1px;top:2960.2px;background:#000"></div>
<div class="l" style="right:616.9px;top:2931.2px;color:#4b0082">加纳</div>
<div class="v" style="left:1810.3px;top:2927.9px;font-size:38.8px;letter-spacing:-0.3px;color:#4b0082">171,657</div>
<div class="b" style="left:1797.1px;top:2995.1px;width:3.0px;height:44.4px;background:#2e9498"></div>
<div class="t" style="left:1790.1px;top:3016.2px;background:#000"></div>
<div class="l" style="right:616.9px;top:2987.3px;color:#4b0082">纳米比亚</div>
<div class="v" style="left:1810.3px;top:2984.0px;font-size:38.8px;letter-spacing:-0.3px;color:#4b0082">171,310</div>
<div class="b" style="left:1797.1px;top:3051.2px;width:3.0px;height:44.4px;background:#2efa98"></div>
<div class="t" style="left:1790.1px;top:3072.3px;background:#000"></div>
<div class="l" style="right:616.9px;top:3043.3px;color:#4b0082">乌干达</div>
<div class="v" style="left:1810.3px;top:3040.0px;font-size:38.8px;letter-spacing:-0.3px;color:#4b0082">170,775</div>
<div class="b" style="left:1797.1px;top:3107.2px;width:2.7px;height:44.4px;background:#949432"></div>
<div class="t" style="left:1790.1px;top:3128.3px;background:#000"></div>
<div class="l" style="right:616.9px;top:3099.4px;color:#4b0082">牙买加</div>
<div class="v" style="left:1810.0px;top:3096.1px;font-size:38.8px;letter-spacing:-0.3px;color:#4b0082">155,026</div>
<div class="b" style="left:1797.1px;top:3163.2px;width:2.4px;height:44.4px;background:#a9d25a"></div>
<div class="t" style="left:1790.1px;top:3184.4px;background:#000"></div>
<div class="l" style="right:616.9px;top:3155.4px;color:#4b0082">柬埔寨</div>
<div class="v" style="left:1809.7px;top:3152.1px;font-size:38.8px;letter-spacing:-0.3px;color:#4b0082">138,822</div>
<div class="b" style="left:1797.1px;top:3219.3px;width:2.3px;height:44.4px;background:#fa9e32"></div>
<div class="t" style="left:1790.1px;top:3240.4px;background:#000"></div>
<div class="l" style="right:616.9px;top:3211.5px;color:#4b0082">卢旺达</div>
<div class="v" style="left:1809.6px;top:3208.2px;font-size:38.8px;letter-spacing:-0.3px;color:#4b0082">133,194</div>
<div class="b" style="left:1797.1px;top:3275.4px;width:2.2px;height:44.4px;background:#dcb24c"></div>
<div class="t" style="left:1790.1px;top:3296.5px;background:#000"></div>
<div class="l" style="right:616.9px;top:3267.6px;color:#4b0082">喀麦隆</div>
<div class="v" style="left:1809.5px;top:3264.2px;font-size:38.8px;letter-spacing:-0.3px;color:#4b0082">125,036</div>
<div class="b" style="left:1797.1px;top:3331.4px;width:2.1px;height:44.4px;background:#fac8d4"></div>
<div class="t" style="left:1790.1px;top:3352.5px;background:#000"></div>
<div class="l" style="right:616.9px;top:3323.6px;color:#4b0082">马耳他</div>
<div class="v" style="left:1809.4px;top:3320.3px;font-size:38.8px;letter-spacing:-0.3px;color:#4b0082">118,815</div>
<div class="b" style="left:1797.1px;top:3387.4px;width:1.9px;height:44.4px;background:#ec96f0"></div>
<div class="t" style="left:1790.1px;top:3408.6px;background:#000"></div>
<div class="l" style="right:616.9px;top:3379.6px;color:#4b0082">巴巴多斯</div>
<div class="v" style="left:1809.2px;top:3376.3px;font-size:38.8px;letter-spacing:-0.3px;color:#4b0082">107,794</div>
<div class="b" style="left:1797.1px;top:3443.5px;width:1.9px;height:44.4px;background:#d6824a"></div>
<div class="t" style="left:1790.1px;top:3464.6px;background:#000"></div>
<div class="l" style="right:616.9px;top:3435.7px;color:#4b0082">安哥拉</div>
<div class="v" style="left:1809.2px;top:3432.4px;font-size:38.8px;letter-spacing:-0.3px;color:#4b0082">105,384</div>
<div class="b" style="left:1797.1px;top:3499.6px;width:1.8px;height:44.4px;background:#fa2e32"></div>
<div class="t" style="left:1790.1px;top:3520.7px;background:#000"></div>
<div class="l" style="right:616.9px;top:3491.8px;color:#4b0082">美国通道群岛</div>
<div class="v" style="left:1809.1px;top:3488.4px;font-size:38.8px;letter-spacing:-0.3px;color:#4b0082">101,717</div><div class="x" style="left:665px;top:113.6px;font-size:71px;letter-spacing:4px;line-height:100px;-webkit-text-stroke:0.7px">全球累计确诊数排行榜<span style="position:relative;left:-13px">【</span>超十万例<span style="position:relative;left:7px">】</span></div><div class="x" style="left:768.5px;top:234px;font-size:41.67px;line-height:60px;-webkit-text-stroke:0.4px">制图：xuexiaoshijie</div><div class="x" style="left:1271.5px;top:234px;font-size:41.67px;line-height:60px;-webkit-text-stroke:0.4px">报告日期：</div><div class="x" style="left:1488.5px;top:234px;font-size:45.2px;line-height:60px;letter-spacing:-0.3px;-webkit-text-stroke:0.3px">2023-06-08</div><div class="wh" style="left:1442px;top:463.5px;font-size:80.3px">designer:xuexiaoshijie</div><div class="wh" style="left:241px;top:647.5px;font-size:67px">designer:xuexiaoshijie</div><div class="wh" style="left:1200px;top:1007.5px;font-size:67px">designer:xuexiaoshijie</div><div id="ban" style="position:absolute;left:0;top:1769px;width:2400px;height:62px;background:#f5948c;overflow:hidden"><div style="position:absolute;left:0;top:-1769px;width:2400px;height:3600px"><div class="b" style="left:347.1px;top:1751.8px;width:106.8px;height:49.7px;background:#967aac"></div>
<div class="t" style="left:340.1px;top:1775.6px;background:#b05a50"></div>
<div class="l" style="right:2066.9px;top:1746.6px;color:#e03c66">希腊</div>
<div class="v" style="left:471.6px;top:1743.4px;font-size:34.5px;letter-spacing:-0.1px;color:#e03c66">6,067,218</div>
<div class="b" style="left:347.1px;top:1813.9px;width:98.4px;height:49.7px;background:#de3e62"></div>
<div class="t" style="left:340.1px;top:1837.7px;background:#b05a50"></div>
<div class="l" style="right:2066.9px;top:1808.7px;color:#e03c66">葡萄牙</div>
<div class="v" style="left:463.2px;top:1805.5px;font-size:34.5px;letter-spacing:-0.1px;color:#e03c66">5,588,310</div><div class="b" style="left:1072.0px;top:1716.1px;width:22.4px;height:46.0px;background:#b06e58"></div>
<div class="t" style="left:1065.0px;top:1738.0px;background:#b05a50"></div>
<div class="l" style="right:1342.0px;top:1709.1px;color:#e03c66">摩洛哥</div>
<div class="v" style="left:1103.9px;top:1705.9px;font-size:34.5px;letter-spacing:-0.1px;color:#e03c66">1,274,180</div>
<div class="b" style="left:1072.0px;top:1773.5px;width:22.4px;height:46.0px;background:#de3e62"></div>
<div class="t" style="left:1065.0px;top:1795.5px;background:#b05a50"></div>
<div class="l" style="right:1342.0px;top:1766.5px;color:#e03c66">克罗地亚</div>
<div class="v" style="left:1103.9px;top:1763.3px;font-size:34.5px;letter-spacing:-0.1px;color:#e03c66">1,272,871</div>
<div class="b" style="left:1072.0px;top:1831.0px;width:22.1px;height:46.0px;background:#fa2e32"></div>
<div class="t" style="left:1065.0px;top:1852.9px;background:#b05a50"></div>
<div class="l" style="right:1342.0px;top:1824.0px;color:#e03c66">危地马拉</div>
<div class="v" style="left:1103.6px;top:1820.8px;font-size:34.5px;letter-spacing:-0.1px;color:#e03c66">1,253,660</div><div class="b" style="left:1797.1px;top:1762.0px;width:6.1px;height:44.4px;background:#b06e58"></div>
<div class="t" style="left:1790.1px;top:1783.1px;background:#b05a50"></div>
<div class="l" style="right:616.9px;top:1754.2px;color:#e03c66">赞比亚</div>
<div class="v" style="left:1813.4px;top:1750.9px;font-size:38.8px;letter-spacing:-0.3px;color:#e03c66">343,995</div>
<div class="b" style="left:1797.1px;top:1818.0px;width:6.0px;height:44.4px;background:#b06e5a"></div>
<div class="t" style="left:1790.1px;top:1839.2px;background:#b05a50"></div>
<div class="l" style="right:616.9px;top:1810.2px;color:#e03c66">肯尼亚</div>
<div class="v" style="left:1813.3px;top:1807.0px;font-size:38.8px;letter-spacing:-0.3px;color:#e03c66">343,074</div></div><div class="x" style="left:0;width:2400px;top:0;height:62px;line-height:62px;text-align:center;color:#fff;font-weight:900;font-size:31.5px;letter-spacing:3.3px;text-indent:19px;text-shadow:0 0 3px rgba(150,40,40,.55),1px 1px 2px rgba(150,40,40,.5)">疫情全球排行榜最新（疫情全球排名）</div></div><div class="x" style="left:1868px;top:3514.3px;font-size:48px;line-height:70px;color:#fff;font-family:'Liberation Sans','Noto Sans CJK SC',sans-serif;text-shadow:1.6px 1.6px 0 #000,0.8px 0.8px 0 #000">搜狐号@雪鸮XueXiao</div>
</div></body></html>
